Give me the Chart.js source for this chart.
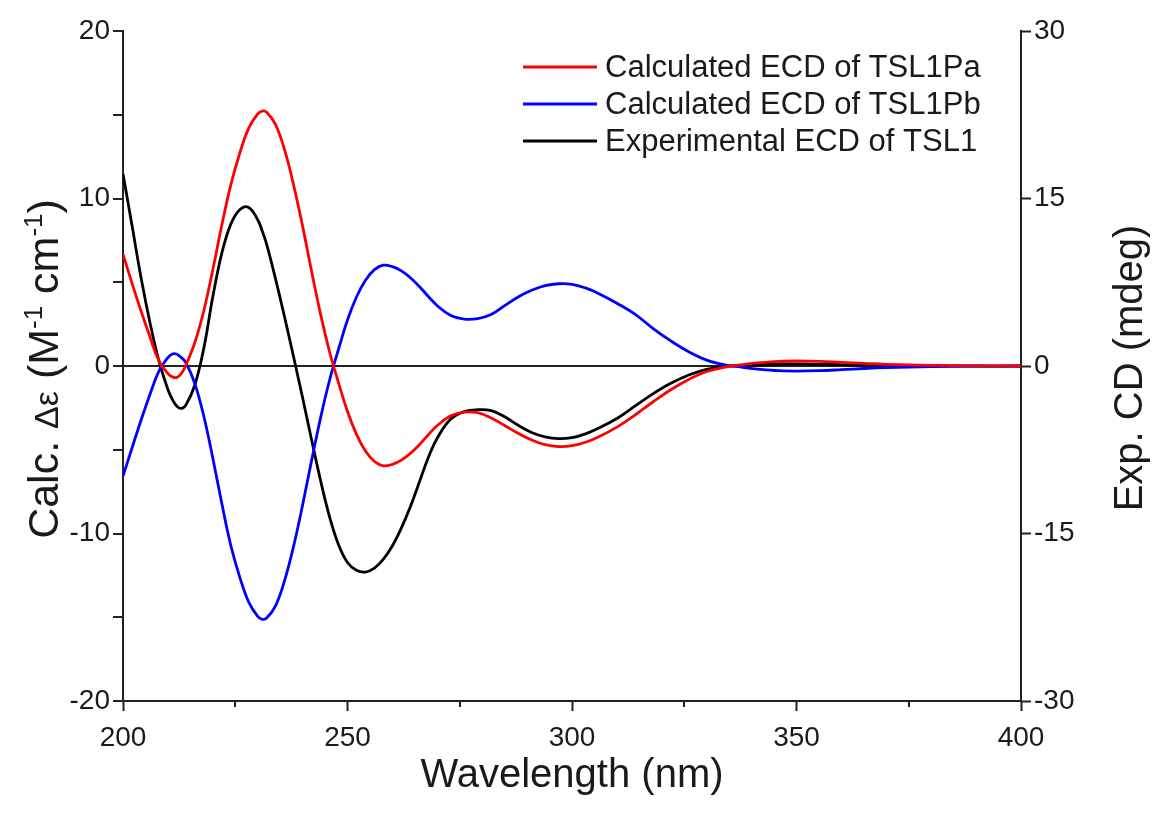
<!DOCTYPE html>
<html>
<head>
<meta charset="utf-8">
<script src="https://cdn.jsdelivr.net/npm/chart.js@4.4.1/dist/chart.umd.min.js"></script>
<style>
html,body{margin:0;padding:0;background:#fff;}
#wrap{width:1157px;height:819px;position:relative;}
</style>
</head>
<body>
<div id="wrap"><canvas id="c"></canvas></div>
<script>
// Wavelength (nm)
const wavelengths = [200,202,204,206,208,210,211,212,213,214,216,218,220,222,224,226,228,230,231,232,234,236,238,240,242,244,246,248,250,252,254,256,258,260,262,264,266,268,270,273,276,279,282,285,288,291,294,297,300,303,306,310,314,318,322,326,330,334,338,342,346,350,355,360,365,370,380,390,400];
// Calculated ECD of TSL1Pa, Δε (M-1 cm-1), left axis
const calcTSL1Pa = [6.67,4.95,3.3,1.75,0.3,-0.45,-0.65,-0.68,-0.45,0.05,1.4,3.3,5.75,8.4,10.8,12.7,14.2,15.05,15.22,15.15,14.4,12.9,10.8,8.35,5.65,3.1,0.85,-1.0,-2.72,-4.08,-5.08,-5.7,-5.96,-5.87,-5.62,-5.22,-4.7,-4.1,-3.55,-2.97,-2.75,-2.79,-3.1,-3.55,-4.02,-4.42,-4.7,-4.81,-4.76,-4.55,-4.22,-3.65,-2.93,-2.15,-1.42,-0.8,-0.33,-0.07,0.08,0.2,0.28,0.3,0.28,0.22,0.16,0.1,0.04,0.01,0];
// Calculated ECD of TSL1Pb, Δε (M-1 cm-1), left axis
const calcTSL1Pb = [-6.57,-4.9,-3.25,-1.7,-0.3,0.5,0.72,0.7,0.5,0.2,-1.05,-3.0,-5.5,-8.2,-10.7,-12.6,-14.1,-14.95,-15.12,-15.05,-14.3,-12.8,-10.75,-8.3,-5.65,-3.1,-0.85,1.0,2.75,4.12,5.12,5.75,6.02,5.93,5.68,5.27,4.75,4.15,3.6,3.02,2.8,2.83,3.07,3.6,4.12,4.52,4.8,4.91,4.88,4.66,4.32,3.75,3.1,2.25,1.5,0.85,0.35,0.07,-0.08,-0.2,-0.28,-0.3,-0.28,-0.22,-0.15,-0.1,-0.04,-0.01,0];
// Experimental ECD of TSL1, CD (mdeg), right axis
const expTSL1 = [17.2,12.6,7.95,3.9,0.45,-2.1,-3.0,-3.6,-3.8,-3.5,-1.7,1.6,6.2,10.1,12.7,14.0,14.2,13.1,12.1,10.9,7.75,4.35,0.8,-2.85,-6.6,-10.25,-13.5,-16.0,-17.6,-18.3,-18.45,-18.1,-17.3,-16.1,-14.5,-12.6,-10.4,-8.2,-6.45,-4.75,-4.08,-3.92,-4.0,-4.55,-5.3,-5.95,-6.35,-6.51,-6.42,-6.08,-5.55,-4.7,-3.6,-2.5,-1.55,-0.8,-0.3,-0.05,0.05,0.12,0.18,0.18,0.15,0.12,0.08,0.06,0.03,0,0];

const seriesLabels = ['Calculated ECD of TSL1Pa','Calculated ECD of TSL1Pb','Experimental ECD of TSL1'];
const xTickLabels = [200,250,300,350,400];
const xMinorTicks = [225,275,325,375];
const leftTickLabels = [-20,-10,0,10,20];
const rightTickLabels = [-30,-15,0,15,30];
const xTitle = 'Wavelength (nm)';
const rightTitle = 'Exp. CD (mdeg)';
const leftTitleParts = [['Calc. ','n'],['\u0394\u03B5','g'],[' (M','n'],['-1','s'],[' cm','n'],['-1','s'],[')','n']];

const FONT = '"Liberation Sans", Arial, Helvetica, sans-serif';
const TXT = '#1a1a1a';
const AX = '#222';

function pts(arr){ return wavelengths.map((w,i)=>({x:w,y:arr[i]})); }

const legendPlugin = {
  id:'customLegend',
  afterDatasetsDraw(chart){
    const ctx = chart.ctx, a = chart.chartArea;
    const x0 = a.left + 400, x1 = a.left + 474, tx = a.left + 482;
    const y0 = a.top + 36, dy = 37;
    ctx.save();
    ctx.font = '31px ' + FONT;
    ctx.textBaseline = 'middle';
    ctx.textAlign = 'left';
    chart.data.datasets.forEach((ds,i)=>{
      const y = y0 + i*dy;
      ctx.strokeStyle = ds.borderColor;
      ctx.lineWidth = 3;
      ctx.beginPath(); ctx.moveTo(x0,y); ctx.lineTo(x1,y); ctx.stroke();
      ctx.fillStyle = TXT;
      ctx.fillText(ds.label, tx, y+1);
    });
    ctx.restore();
  }
};

const minorTickPlugin = {
  id:'minorTicks',
  afterDraw(chart){
    const ctx = chart.ctx, sx = chart.scales.x, a = chart.chartArea;
    ctx.save();
    ctx.strokeStyle = AX; ctx.lineWidth = 2;
    xMinorTicks.forEach(v=>{
      const px = Math.round(sx.getPixelForValue(v));
      ctx.beginPath(); ctx.moveTo(px, a.bottom); ctx.lineTo(px, a.bottom + 6); ctx.stroke();
    });
    ctx.restore();
  }
};

const titlesPlugin = {
  id:'axisTitles',
  afterDraw(chart){
    const ctx = chart.ctx, a = chart.chartArea;
    const cy = (a.top + a.bottom)/2;
    const fonts = {n:'43px '+FONT, g:'34px '+FONT, s:'26px '+FONT};
    const offs = {n:0, g:0, s:-16};
    ctx.save();
    ctx.fillStyle = TXT;
    ctx.textBaseline = 'alphabetic';
    ctx.textAlign = 'left';
    let total = 0;
    leftTitleParts.forEach(p=>{ ctx.font = fonts[p[1]]; total += ctx.measureText(p[0]).width; });
    ctx.translate(58, cy + 3);
    ctx.rotate(-Math.PI/2);
    let x = -total/2;
    leftTitleParts.forEach(p=>{
      ctx.font = fonts[p[1]];
      ctx.fillText(p[0], x, offs[p[1]]);
      x += ctx.measureText(p[0]).width;
    });
    ctx.restore();

    ctx.save();
    ctx.fillStyle = TXT;
    ctx.font = '40px ' + FONT;
    ctx.textAlign = 'center';
    ctx.textBaseline = 'alphabetic';
    ctx.translate(1142, cy + 2);
    ctx.rotate(-Math.PI/2);
    ctx.fillText(rightTitle, 0, 0);
    ctx.restore();
  }
};

const lineDs = (label, arr, color, axis) => ({
  label, data: pts(arr), borderColor: color, backgroundColor: color,
  borderWidth: 2.8, pointRadius: 0, fill: false, yAxisID: axis,
  tension: 0.4
});

new Chart(document.getElementById('c'), {
  type: 'line',
  data: {
    datasets: [
      lineDs(seriesLabels[0], calcTSL1Pa, '#ff0000', 'y'),
      lineDs(seriesLabels[1], calcTSL1Pb, '#0000ff', 'y'),
      lineDs(seriesLabels[2], expTSL1, '#000000', 'yR')
    ]
  },
  options: {
    responsive: true,
    maintainAspectRatio: false,
    animation: false,
    devicePixelRatio: 1,
    layout: { padding: { top: 31, left: 0, right: 0, bottom: 0 } },
    plugins: { legend: { display: false }, tooltip: { enabled: false } },
    scales: {
      x: {
        type: 'linear', min: 200, max: 400,
        ticks: {
          stepSize: 50, color: TXT, padding: 10, maxRotation: 0,
          font: { family: FONT, size: 28 },
          callback: v => xTickLabels.includes(v) ? String(v) : ''
        },
        grid: { drawOnChartArea: false, tickLength: 10, tickColor: AX, tickWidth: 2 },
        border: { color: AX, width: 2 },
        title: { display: true, text: xTitle, color: TXT, font: { family: FONT, size: 40 }, padding: { top: 0, bottom: 19 } },
        afterFit: s => { s.height = 118; }
      },
      y: {
        type: 'linear', position: 'left', min: -20, max: 20,
        ticks: {
          stepSize: 5, color: TXT, padding: 3,
          font: { family: FONT, size: 28 },
          callback: v => leftTickLabels.includes(v) ? String(v) : ''
        },
        grid: {
          drawOnChartArea: true, tickLength: 10, tickColor: AX, tickWidth: 2, lineWidth: 2,
          color: c => (c.tick && c.tick.value === 0) ? AX : 'rgba(0,0,0,0)'
        },
        border: { color: AX, width: 2 },
        afterFit: s => { s.width = 123; }
      },
      yR: {
        type: 'linear', position: 'right', min: -30, max: 30,
        ticks: {
          stepSize: 15, color: TXT, padding: 3,
          font: { family: FONT, size: 28 },
          callback: v => rightTickLabels.includes(v) ? String(v) : ''
        },
        grid: { drawOnChartArea: false, tickLength: 10, tickColor: AX, tickWidth: 2 },
        border: { color: AX, width: 2 },
        afterFit: s => { s.width = 136; }
      }
    }
  },
  plugins: [legendPlugin, minorTickPlugin, titlesPlugin]
});
</script>
</body>
</html>
